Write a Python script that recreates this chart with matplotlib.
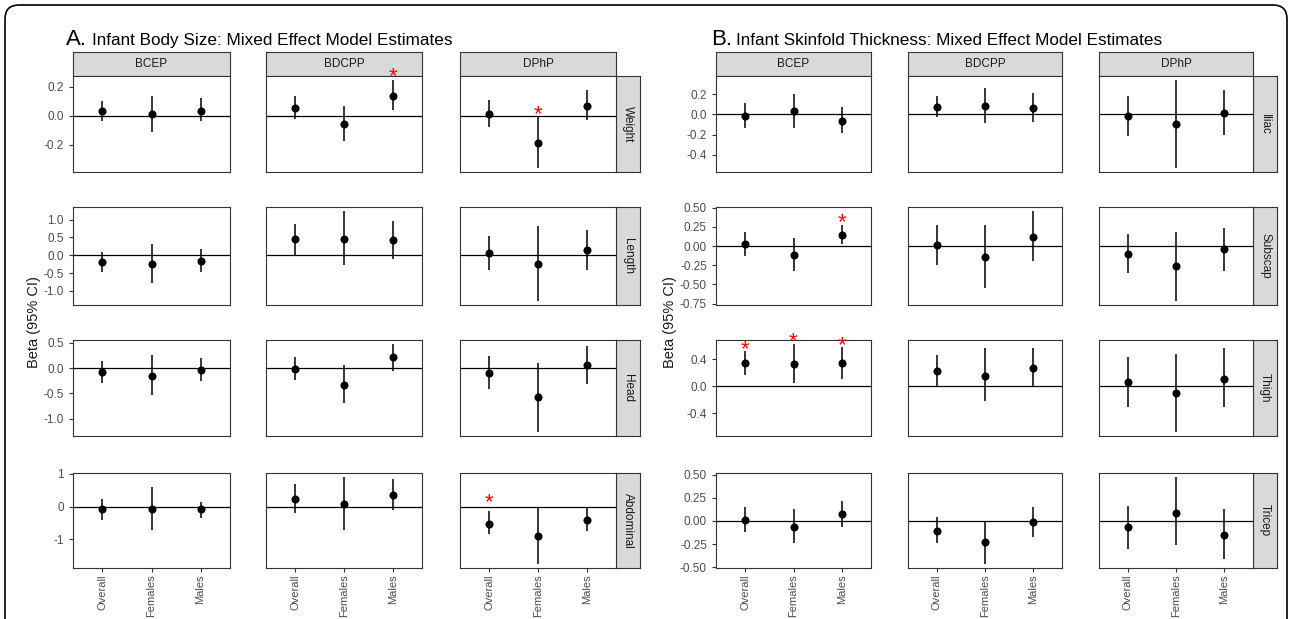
import matplotlib.pyplot as plt
import matplotlib.transforms as mtransforms
from matplotlib.patches import FancyBboxPatch

plt.rcParams['font.family'] = ['Liberation Sans', 'DejaVu Sans']
plt.rcParams['axes.unicode_minus'] = False

W, H = 1292, 619

groups = ["Overall", "Females", "Males"]
chemicals = ["BCEP", "BDCPP", "DPhP"]

# ---- A. body size (rows of each array = chemical, cols = group)
body_outcomes = ["Weight", "Length", "Head", "Abdominal"]

weight_est = [[0.03, 0.015, 0.035], [0.055, -0.06, 0.135], [0.01, -0.19, 0.07]]
weight_lo = [[-0.04, -0.11, -0.04], [-0.02, -0.175, 0.04], [-0.08, -0.36, -0.03]]
weight_hi = [[0.10, 0.14, 0.12], [0.135, 0.07, 0.245], [0.11, -0.01, 0.175]]

length_est = [[-0.19, -0.25, -0.16], [0.45, 0.45, 0.42], [0.06, -0.24, 0.14]]
length_lo = [[-0.47, -0.79, -0.47], [0.02, -0.28, -0.10], [-0.42, -1.27, -0.42]]
length_hi = [[0.09, 0.32, 0.17], [0.88, 1.23, 0.97], [0.54, 0.82, 0.72]]

head_est = [[-0.08, -0.15, -0.04], [-0.02, -0.33, 0.21], [-0.10, -0.58, 0.06]]
head_lo = [[-0.30, -0.53, -0.26], [-0.24, -0.70, -0.05], [-0.41, -1.26, -0.32]]
head_hi = [[0.14, 0.26, 0.20], [0.22, 0.06, 0.47], [0.24, 0.10, 0.43]]

abdominal_est = [[-0.09, -0.09, -0.09], [0.23, 0.09, 0.35], [-0.52, -0.90, -0.41]]
abdominal_lo = [[-0.40, -0.71, -0.34], [-0.19, -0.71, -0.11], [-0.85, -1.74, -0.74]]
abdominal_hi = [[0.24, 0.60, 0.15], [0.68, 0.89, 0.83], [-0.13, 0.00, 0.00]]

body_ticks = [[-0.2, 0.0, 0.2], [-1.0, -0.5, 0.0, 0.5, 1.0],
              [-1.0, -0.5, 0.0, 0.5], [-1, 0, 1]]
body_fmt = ["{:.1f}", "{:.1f}", "{:.1f}", "{:.0f}"]
# (outcome, chemical, group, star height)
body_stars = [("Weight", "BDCPP", "Males", 0.32), ("Weight", "DPhP", "Females", 0.056),
              ("Abdominal", "DPhP", "Overall", 0.32)]

# ---- B. skinfold thickness
skin_outcomes = ["Iliac", "Subscap", "Thigh", "Tricep"]

iliac_est = [[-0.02, 0.03, -0.065], [0.07, 0.08, 0.06], [-0.015, -0.095, 0.01]]
iliac_lo = [[-0.13, -0.13, -0.18], [-0.03, -0.09, -0.08], [-0.21, -0.53, -0.20]]
iliac_hi = [[0.11, 0.20, 0.07], [0.18, 0.26, 0.21], [0.18, 0.34, 0.24]]

subscap_est = [[0.02, -0.12, 0.14], [0.01, -0.14, 0.12], [-0.10, -0.26, -0.04]]
subscap_lo = [[-0.13, -0.33, 0.02], [-0.25, -0.55, -0.19], [-0.35, -0.71, -0.32]]
subscap_hi = [[0.18, 0.10, 0.28], [0.28, 0.28, 0.45], [0.15, 0.18, 0.23]]

thigh_est = [[0.34, 0.33, 0.34], [0.22, 0.15, 0.27], [0.06, -0.10, 0.11]]
thigh_lo = [[0.16, 0.05, 0.11], [0.00, -0.22, 0.00], [-0.30, -0.67, -0.31]]
thigh_hi = [[0.52, 0.62, 0.58], [0.46, 0.56, 0.56], [0.43, 0.48, 0.56]]

tricep_est = [[0.01, -0.06, 0.07], [-0.11, -0.23, -0.01], [-0.07, 0.09, -0.15]]
tricep_lo = [[-0.12, -0.24, -0.07], [-0.24, -0.46, -0.17], [-0.30, -0.26, -0.41]]
tricep_hi = [[0.15, 0.13, 0.21], [0.04, 0.00, 0.15], [0.16, 0.47, 0.13]]

skin_ticks = [[-0.4, -0.2, 0.0, 0.2], [-0.75, -0.5, -0.25, 0.0, 0.25, 0.5],
              [-0.4, 0.0, 0.4], [-0.5, -0.25, 0.0, 0.25, 0.5]]
skin_fmt = ["{:.1f}", "{:.2f}", "{:.1f}", "{:.2f}"]
skin_stars = [("Subscap", "BCEP", "Males", 0.40), ("Thigh", "BCEP", "Overall", 0.64),
              ("Thigh", "BCEP", "Females", 0.765), ("Thigh", "BCEP", "Males", 0.70)]

body_data = [(weight_est, weight_lo, weight_hi), (length_est, length_lo, length_hi),
             (head_est, head_lo, head_hi), (abdominal_est, abdominal_lo, abdominal_hi)]
skin_data = [(iliac_est, iliac_lo, iliac_hi), (subscap_est, subscap_lo, subscap_hi),
             (thigh_est, thigh_lo, thigh_hi), (tricep_est, tricep_lo, tricep_hi)]

EDGE = "#333333"
STRIP = "#D9D9D9"
TICKCOL = "#4D4D4D"

fig = plt.figure(figsize=(W / 100, H / 100), dpi=100)


def px_axes(x0, y0, x1, y1, z=1):
    return fig.add_axes([x0 / W, 1 - y1 / H, (x1 - x0) / W, (y1 - y0) / H], zorder=z)


def strip(x0, y0, x1, y1, label, rot=0):
    s = px_axes(x0, y0, x1, y1, z=1)
    s.set_facecolor(STRIP)
    s.set_xticks([])
    s.set_yticks([])
    for sp in s.spines.values():
        sp.set_color(EDGE)
        sp.set_linewidth(0.8)
    s.text(0.5, 0.5, label, transform=s.transAxes, ha="center", va="center",
           fontsize=8.5, color="#1A1A1A", rotation=rot)


def facet_grid(col_x, row_y, outcomes, data, ticks, fmts, stars):
    xs = [1, 2, 3]
    for r, outcome in enumerate(outcomes):
        est, lo, hi = data[r]
        lo_all = min(min(v) for v in lo)
        hi_all = max(max(v) for v in hi)
        pad = (hi_all - lo_all) * 0.05
        for c, chem in enumerate(chemicals):
            x0, x1 = col_x[c]
            y0, y1 = row_y[r]
            ax = px_axes(x0, y0, x1, y1, z=3)
            ax.set_xlim(0.4, 3.6)
            ax.set_ylim(lo_all - pad, hi_all + pad)
            ax.axhline(0, color="black", lw=0.9, zorder=1)
            ax.vlines(xs, lo[c], hi[c], color="black", lw=1.1, zorder=2)
            ax.plot(xs, est[c], "o", color="black", ms=4.8, zorder=3)
            for sp in ax.spines.values():
                sp.set_color(EDGE)
                sp.set_linewidth(0.8)
            ax.tick_params(color=EDGE, length=3, labelcolor=TICKCOL, labelsize=8.5)
            if c == 0:
                ax.set_yticks(ticks[r])
                ax.set_yticklabels([fmts[r].format(t) for t in ticks[r]])
            else:
                ax.set_yticks([])
            if r == len(outcomes) - 1:
                ax.set_xticks(xs)
                ax.set_xticklabels(groups, rotation=90, fontsize=8)
                ax.tick_params(axis="x", pad=1.5)
            else:
                ax.set_xticks([])
            star_tr = mtransforms.offset_copy(ax.transData, fig=fig, y=-9, units="points")
            for (o, ch, g, yy) in stars:
                if o == outcome and ch == chem:
                    ax.text(groups.index(g) + 1, yy, "*", color="red", ha="center",
                            va="baseline", fontsize=16, clip_on=False, zorder=5,
                            transform=star_tr)
            if r == 0:
                strip(x0, row_y[0][0] - 24, x1, row_y[0][0], chem)
            if c == len(chemicals) - 1:
                strip(x1, y0, x1 + 24, y1, outcome, rot=270)


row_y = [(76, 172), (207, 305), (340, 436), (473, 568)]
facet_grid([(73, 230), (266, 422), (460, 616)], row_y, body_outcomes, body_data,
           body_ticks, body_fmt, body_stars)
facet_grid([(716, 871), (908, 1062), (1099, 1253)], row_y, skin_outcomes, skin_data,
           skin_ticks, skin_fmt, skin_stars)

# titles and y labels
fig.text(66 / W, 1 - 45 / H, "A.", fontsize=16, va="baseline")
fig.text(92 / W, 1 - 45 / H, "Infant Body Size: Mixed Effect Model Estimates",
         fontsize=12.3, va="baseline")
fig.text(711 / W, 1 - 45 / H, "B.", fontsize=16, va="baseline")
fig.text(736 / W, 1 - 45 / H, "Infant Skinfold Thickness: Mixed Effect Model Estimates",
         fontsize=12.3, va="baseline")
fig.text(34 / W, 1 - 322 / H, "Beta (95% CI)", rotation=90, fontsize=10.5,
         ha="center", va="center", color="#1A1A1A")
fig.text(670 / W, 1 - 322 / H, "Beta (95% CI)", rotation=90, fontsize=10.5,
         ha="center", va="center", color="#1A1A1A")

# rounded frame around the figure
bg = fig.add_axes([0, 0, 1, 1], zorder=-1)
bg.set_xlim(0, W)
bg.set_ylim(H, 0)
bg.axis("off")
bg.add_patch(FancyBboxPatch((5, 5), W - 10, H + 40,
                            boxstyle="round,pad=0,rounding_size=14",
                            fill=False, edgecolor="black", lw=1.2))

fig.savefig("out.png", dpi=100)
